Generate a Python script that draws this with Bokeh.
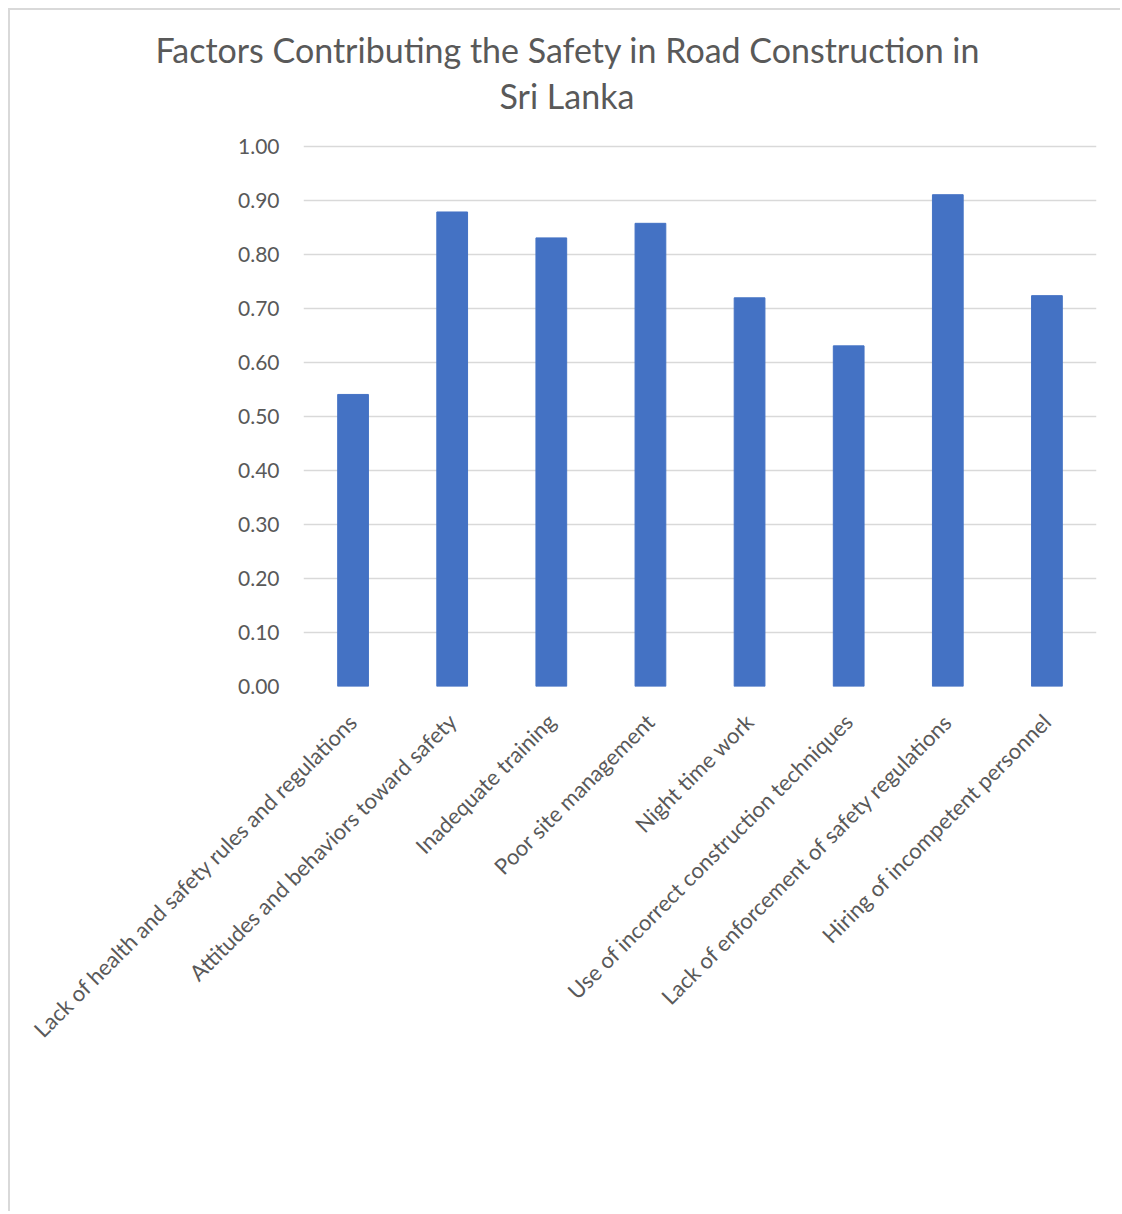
import math
from bokeh.plotting import figure
from bokeh.models import Range1d, FactorRange, FixedTicker, NumeralTickFormatter, Title
from bokeh.embed import file_html
from bokeh.resources import INLINE

categories = [
    "Lack of health and safety rules and regulations",
    "Attitudes and behaviors toward safety",
    "Inadequate training",
    "Poor site management",
    "Night time work",
    "Use of incorrect construction techniques",
    "Lack of enforcement of safety regulations",
    "Hiring of incompetent personnel",
]
values = [0.541, 0.879, 0.831, 0.858, 0.720, 0.631, 0.911, 0.724]
y_ticks = [0.0, 0.1, 0.2, 0.3, 0.4, 0.5, 0.6, 0.7, 0.8, 0.9, 1.0]
title_lines = ["Factors Contributing the Safety in Road Construction in", "Sri Lanka"]

FONT = "Lato"
GREY = "#595959"

p = figure(
    x_range=FactorRange(factors=categories, range_padding=0),
    y_range=Range1d(0, 1.004),
    width=1112, height=1203,
    output_backend="svg", toolbar_location=None,
    min_border_left=293, min_border_right=26,
    min_border_top=0, min_border_bottom=527,
    border_fill_color="white", background_fill_color="white",
    outline_line_color=None,
)
p.styles = {"border-left": "2px solid #d9d9d9", "border-top": "2px solid #d9d9d9",
            "margin-left": "8px", "margin-top": "8px"}

p.vbar(x=categories, top=values, width=0.31, fill_color="#4472C4", line_color="#4472C4")

p.yaxis.ticker = FixedTicker(ticks=y_ticks)
p.yaxis.formatter = NumeralTickFormatter(format="0.00")
p.yaxis.axis_line_color = None
p.yaxis.major_tick_line_color = None
p.yaxis.minor_tick_line_color = None
p.yaxis.major_label_text_font = FONT
p.yaxis.major_label_text_font_size = "21px"
p.yaxis.major_label_text_color = GREY
p.yaxis.major_label_standoff = 18

p.xaxis.axis_line_color = None
p.xaxis.major_tick_line_color = None
p.xaxis.minor_tick_line_color = None
p.xaxis.major_label_orientation = math.pi / 4
p.xaxis.major_label_text_font = FONT
p.xaxis.major_label_text_font_size = "22px"
p.xaxis.major_label_text_color = GREY
p.xaxis.major_label_standoff = 25

p.xgrid.grid_line_color = None
p.ygrid.ticker = FixedTicker(ticks=y_ticks)
p.ygrid.grid_line_color = "#d9d9d9"
p.ygrid.grid_line_width = 1.5

# stacked above the frame, nearest first: spacer, second line, first line, spacer
def spacer(so):
    return Title(text=" ", standoff=so, text_font=FONT, text_font_size="10px")

p.add_layout(spacer(13), "above")
for txt, off, so in [(title_lines[1], 196, 3), (title_lines[0], -148, 4)]:
    p.add_layout(Title(text=txt, align="left", offset=off, standoff=so,
                       text_font=FONT, text_font_size="34px", text_font_style="normal",
                       text_color=GREY), "above")
p.add_layout(spacer(0), "above")

open("out.html", "w").write(file_html(p, INLINE))
